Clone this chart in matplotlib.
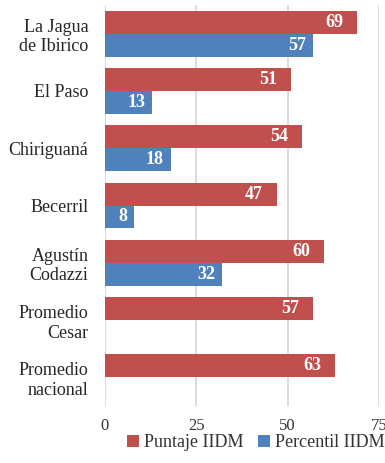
import numpy as np
from matplotlib import pyplot as plt

categorias = ['La Jagua\nde Ibirico', 'El Paso', 'Chiriguaná', 'Becerril',
              'Agustín\nCodazzi', 'Promedio\nCesar', 'Promedio\nnacional']
puntaje = [69, 51, 54, 47, 60, 57, 63]
percentil = [57, 13, 18, 8, 32, None, None]

rojo = '#C0504D'
azul = '#4F81BD'

plt.rcParams['font.family'] = ['Liberation Serif', 'DejaVu Serif']

fig = plt.figure(figsize=(3.85, 4.63), dpi=100)
ax = fig.add_axes([105 / 385, 57 / 463, 274 / 385, 401 / 463])

y = np.arange(len(categorias))
h = 0.4

def etiqueta(ax, val, yy, sep):
    ax.annotate(str(val), (val, yy), xytext=(-sep, 0), textcoords='offset points',
                ha='right', va='center', color='white', fontweight='bold',
                fontsize=13)

for i, v in enumerate(puntaje):
    ax.barh(y[i] - h / 2, v, height=h, color=rojo, zorder=3,
            label='Puntaje IIDM' if i == 0 else None)
    etiqueta(ax, v, y[i] - h / 2, 10)

for i, v in enumerate(percentil):
    if v is None:
        continue
    ax.barh(y[i] + h / 2, v, height=h, color=azul, zorder=3,
            label='Percentil IIDM' if i == 0 else None)
    etiqueta(ax, v, y[i] + h / 2, 5)

ax.set_xlim(0, 75)
ax.set_ylim(len(categorias) - 0.5, -0.5)
ax.set_xticks([0, 25, 50, 75])
ax.set_yticks(y)
ax.set_yticklabels(categorias, fontsize=13, color='#262626')
ax.tick_params(axis='x', labelsize=12, colors='#333333', length=0, pad=9)
ax.tick_params(axis='y', length=0, pad=12)
ax.grid(axis='x', color='#d9d9d9', linewidth=1.3, zorder=0)
for s in ax.spines.values():
    s.set_visible(False)

leg = fig.legend(loc='lower center', bbox_to_anchor=(0.665, -0.01), ncol=2,
                 frameon=False, fontsize=13, handlelength=0.65,
                 handleheight=0.65, handletextpad=0.3, columnspacing=0.8)
for t in leg.get_texts():
    t.set_color('#333333')

fig.savefig('out.png', dpi=100)
